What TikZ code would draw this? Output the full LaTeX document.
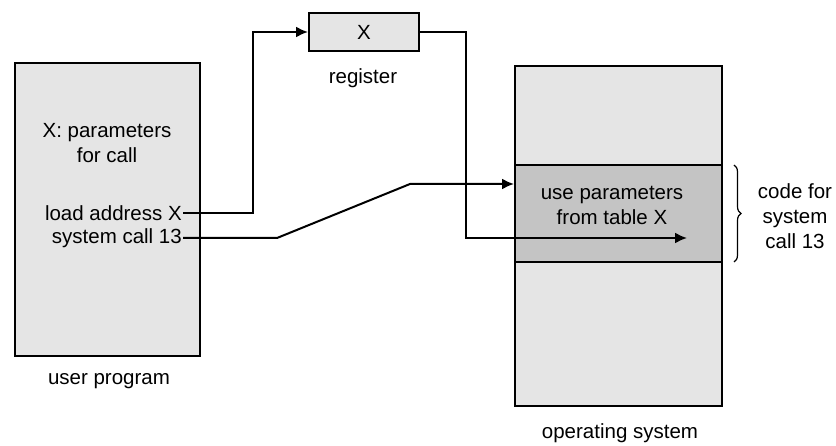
\documentclass[tikz,border=0pt]{standalone}
\usepackage{fontspec}
\setmainfont{Liberation Sans}
\usetikzlibrary{arrows.meta,decorations.pathreplacing}
\begin{document}
\begin{tikzpicture}[x=1pt,y=-1pt,
  box/.style={draw,line width=2pt,fill=black!10,inner sep=0pt},
  band/.style={draw,line width=2pt,fill=black!23,inner sep=0pt},
  lbl/.style={font=\fontsize{20.5}{25}\selectfont,inner sep=1pt,align=center},
  conn/.style={line width=2pt,-{Latex[length=12pt,width=11pt]}},
]
\useasboundingbox[fill=white] (0,0) rectangle (836,446);
% boxes
\node[box,minimum width=185pt,minimum height=293pt] (user) at (107.5,209.5) {};
\node[box,minimum width=110pt,minimum height=38pt] (reg) at (364,32) {};
\node[box,minimum width=207pt,minimum height=340pt] (os) at (618.5,236) {};
\node[band,minimum width=207pt,minimum height=97pt] (code) at (618.5,213.5) {};
% texts
\node[lbl] (params) at (107,143) {X: parameters\\for call};
\node[lbl,anchor=east] (load) at (183,213) {load address X};
\node[lbl,anchor=east] (sys) at (183,238) {system call 13};
\node[lbl] (userlbl) at (109,381) {user program};
\node[lbl] (xreg) at (364,32) {X};
\node[lbl] (reglbl) at (363,78) {register};
\node[lbl] (use) at (612,205) {use parameters\\from table X};
\node[lbl] (codefor) at (795,216) {code for\\system\\call 13};
\node[lbl] (oslbl) at (620,433) {operating system};
% connectors
\coordinate (target) at (687,238);
\draw[conn] (load.east) -- (253,213) -- (253,32) -- (reg.west);
\draw[conn] (reg.east) -- (466,32) -- (466,238) -- (target);
\draw[conn] (sys.east) -- (277,238) -- (410,184) -- (code.west |- 0,184);
% brace
\draw[line width=1.2pt,decorate,decoration={brace,amplitude=7pt}] (734,165) -- (734,262);
\end{tikzpicture}
\end{document}
